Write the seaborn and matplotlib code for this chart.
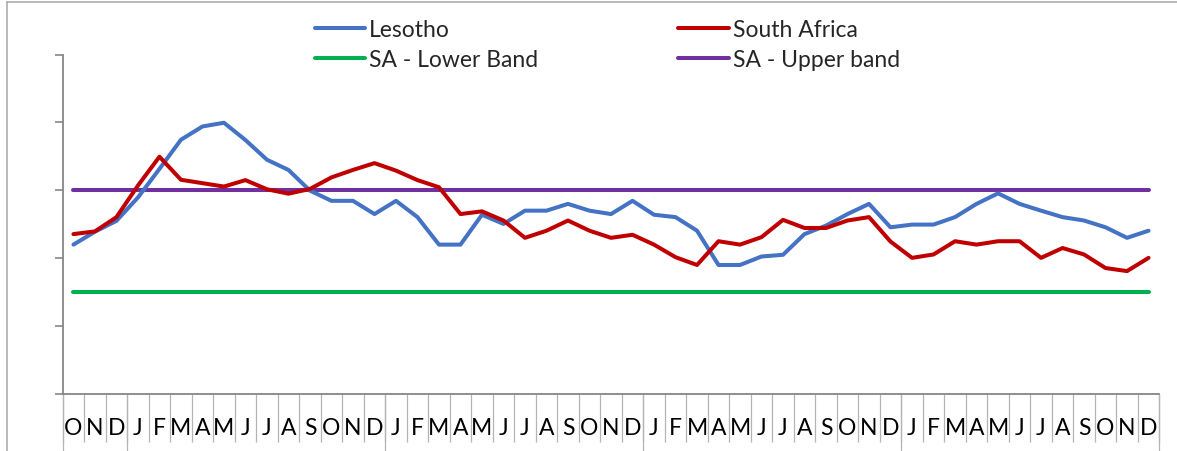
import numpy as np
import pandas as pd
import matplotlib
matplotlib.use("Agg")
import matplotlib.pyplot as plt
from matplotlib.lines import Line2D
import seaborn as sns

# ---------------- data ----------------
months = ["O", "N", "D"] + ["J", "F", "M", "A", "M", "J", "J", "A", "S", "O", "N", "D"] * 4

lesotho = [4.40, 4.78, 5.10, 5.79, 6.63, 7.49, 7.88, 7.99, 7.48, 6.90, 6.60, 5.99, 5.69, 5.69, 5.30,
           5.69, 5.21, 4.40, 4.40, 5.28, 5.01, 5.40, 5.40, 5.60, 5.40, 5.30, 5.69, 5.28, 5.21, 4.81,
           3.80, 3.80, 4.05, 4.10, 4.71, 4.96, 5.30, 5.60, 4.91, 4.99, 4.99, 5.21, 5.60, 5.91, 5.60,
           5.40, 5.21, 5.11, 4.91, 4.60, 4.81]
south_africa = [4.71, 4.79, 5.21, 6.14, 6.99, 6.31, 6.21, 6.11, 6.30, 6.03, 5.90, 6.04, 6.38, 6.60, 6.80,
                6.58, 6.30, 6.09, 5.30, 5.38, 5.11, 4.60, 4.81, 5.11, 4.81, 4.60, 4.69, 4.40, 4.03, 3.80,
                4.50, 4.40, 4.62, 5.13, 4.89, 4.89, 5.11, 5.21, 4.49, 4.01, 4.11, 4.50, 4.40, 4.50, 4.50,
                4.01, 4.30, 4.11, 3.71, 3.62, 4.01]
sa_lower_band = [3.0] * len(months)
sa_upper_band = [6.0] * len(months)

series_names = ["Lesotho", "SA - Lower Band", "South Africa", "SA - Upper band"]
series_colors = ["#4472C4", "#00B050", "#C00000", "#7030A0"]

n = len(months)
idx = np.arange(n)
df = pd.concat([
    pd.DataFrame({"t": idx, "value": lesotho, "series": "Lesotho"}),
    pd.DataFrame({"t": idx, "value": sa_lower_band, "series": "SA - Lower Band"}),
    pd.DataFrame({"t": idx, "value": south_africa, "series": "South Africa"}),
    pd.DataFrame({"t": idx, "value": sa_upper_band, "series": "SA - Upper band"}),
], ignore_index=True)

# ---------------- style ----------------
sns.set_style("white")
plt.rcParams["font.family"] = ["Lato", "DejaVu Sans"]

W, H = 1177, 452
fig = plt.figure(figsize=(W / 100, H / 100), dpi=100)
ax = fig.add_axes([62.7 / W, 57 / H, (1159.3 - 62.7) / W, (395 - 55.5) / H])

order_draw = ["SA - Lower Band", "SA - Upper band", "Lesotho", "South Africa"]
pal = dict(zip(series_names, series_colors))
sns.lineplot(data=df, x="t", y="value", hue="series", hue_order=order_draw,
             palette=pal, linewidth=2.9, ax=ax, legend=False, sort=False)
for ln in ax.get_lines():
    ln.set_solid_capstyle("round")
    ln.set_solid_joinstyle("round")

ax.set_xlim(-0.5, n - 0.5)
ax.set_ylim(0, 10)
ax.set_xlabel("")
ax.set_ylabel("")

axis_col = "#868686"
sep_col = "#b4b4b4"
for s in ["top", "right"]:
    ax.spines[s].set_visible(False)
for s in ["left", "bottom"]:
    ax.spines[s].set_color(axis_col)
    ax.spines[s].set_linewidth(1.3)

ax.set_yticks(np.arange(0, 11, 2))
ax.tick_params(axis="y", left=True, direction="out", length=5.5, width=1.2, color=axis_col,
               labelleft=False)

ax.set_xticks(idx)
ax.set_xticklabels(months)
ax.set_xticks(np.arange(-0.5, n, 1.0), minor=True)
ax.tick_params(axis="x", which="major", bottom=True, length=0, pad=16.5, labelsize=16.5,
               labelcolor="#000000")
ax.tick_params(axis="x", which="minor", bottom=True, direction="out", length=34.5, width=0.9,
               color=sep_col)

# year separators (longer)
year_bounds = [-0.5] + [i - 0.5 for i in range(1, n) if months[i] == "J" and months[i - 1] == "D"] + [n - 0.5]
sec = ax.secondary_xaxis("bottom")
sec.set_xticks(year_bounds)
sec.set_xticklabels([""] * len(year_bounds))
sec.tick_params(bottom=True, direction="out", length=45, width=0.9, color=sep_col)
sec.spines["bottom"].set_visible(False)

# legend
handles = [Line2D([], [], color=c, linewidth=2.9, solid_capstyle="round") for c in series_colors]
leg = fig.legend(handles, series_names, ncol=2, loc="upper left",
                 bbox_to_anchor=(315 / W, 1 - 20 / H), frameon=False,
                 fontsize=16.5, handlelength=2.2, handletextpad=0.17,
                 columnspacing=6.1, labelspacing=0.38, borderaxespad=0, borderpad=0)

# chart-area border (top & left visible)
fig.add_artist(Line2D([7 / W, 7 / W], [0, 1 - 3 / H], transform=fig.transFigure, color="#a6a6a6", linewidth=1.1))
fig.add_artist(Line2D([7 / W, 1], [1 - 3 / H, 1 - 3 / H], transform=fig.transFigure, color="#a6a6a6", linewidth=1.1))

fig.savefig("out.png", dpi=100, facecolor="white")
